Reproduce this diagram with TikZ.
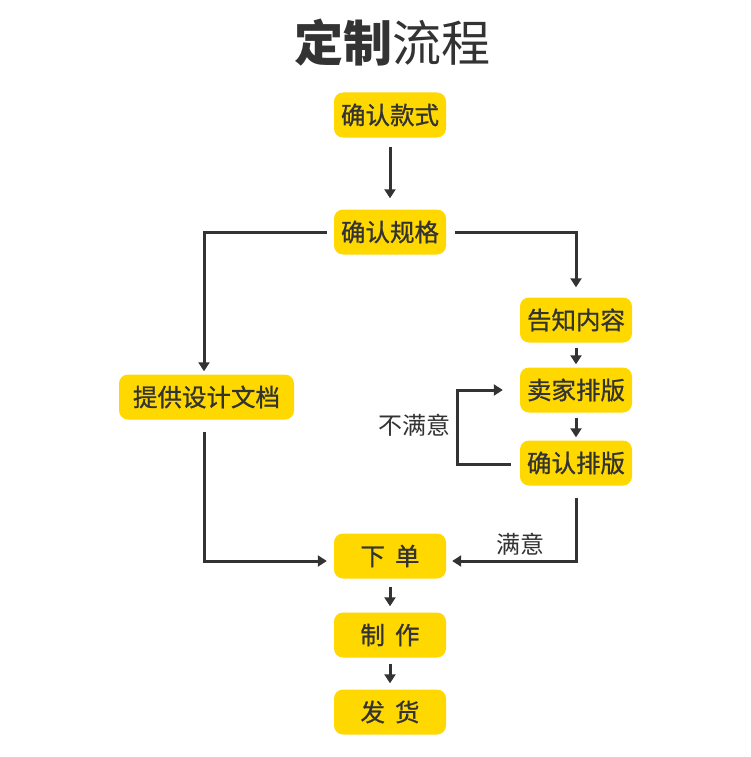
\documentclass[tikz,border=0pt]{standalone}
\usepackage{fontspec}
\setmainfont{Noto Sans CJK SC}
\newfontfamily\cjk{Noto Sans CJK SC}
\newfontfamily\cjkm[FakeBold=0.9]{Noto Sans CJK SC}
\usetikzlibrary{arrows.meta}
\definecolor{boxy}{HTML}{FFD800}
\definecolor{ink}{HTML}{333333}
\tikzset{
  stepbox/.style={fill=boxy, rounded corners=9pt, minimum width=112pt, minimum height=45pt,
    inner sep=0pt, text=ink, font=\cjkm\fontsize{24.5}{28}\selectfont},
  widebox/.style={stepbox, minimum width=175pt},
  arr/.style={draw=ink, line width=3pt, -{Triangle[length=9pt,width=11pt]}},
  lbl/.style={text=ink, font=\cjk\fontsize{24}{28}\selectfont, inner sep=0pt}
}
\newcommand{\gp}{\hspace{10pt}}
\begin{document}
\begin{tikzpicture}[x=1pt,y=-1pt]
\useasboundingbox[fill=white] (0,0) rectangle (750,757);
\node[text=ink, font=\cjk\fontsize{49}{56}\selectfont, inner sep=0pt] (title) at (392,43) {\textbf{定制}流程};
\node[stepbox] (ks) at (390,115) {确认款式};
\node[stepbox] (gg) at (390,232) {确认规格};
\node[stepbox] (gz) at (576,320) {告知内容};
\node[stepbox] (mj) at (576,390) {卖家排版};
\node[stepbox] (qr) at (576,463) {确认排版};
\node[widebox] (tg) at (206.5,397) {提供设计文档};
\node[stepbox] (xd) at (390,556) {下\gp 单};
\node[stepbox] (zz) at (390,635) {制\gp 作};
\node[stepbox] (fh) at (390,712) {发\gp 货};
\coordinate (loopstart) at ([xshift=-9pt,yshift=-1pt]qr.west);
\coordinate (loopx) at (457,0);
\draw[arr, shorten <=9pt, shorten >=11pt] (ks.south) -- (gg.north);
\draw[arr] ([xshift=-7pt]gg.west) -| ([xshift=-2.5pt,yshift=3pt]tg.north);
\draw[arr] ([xshift=9pt]gg.east) -| ([yshift=10pt]gz.north);
\draw[arr, shorten <=5pt, shorten >=3pt] (gz.south) -- (mj.north);
\draw[arr, shorten <=5pt, shorten >=3pt] (mj.south) -- (qr.north);
\draw[arr] (loopstart) -- (loopx |- loopstart) |- ([xshift=-17pt]mj.west);
\node[lbl] (bmy) at (414,425) {不满意};
\draw[arr] ([yshift=-12pt]qr.south) |- ([xshift=6pt,yshift=-5pt]xd.east);
\node[lbl] (my) at (520,544) {满意};
\draw[arr] ([xshift=-2.5pt,yshift=-12pt]tg.south) |- ([xshift=-7pt,yshift=-5pt]xd.west);
\draw[arr, shorten <=8pt, shorten >=6pt] (xd.south) -- (zz.north);
\draw[arr, shorten <=6pt, shorten >=6pt] (zz.south) -- (fh.north);
\end{tikzpicture}
\end{document}
